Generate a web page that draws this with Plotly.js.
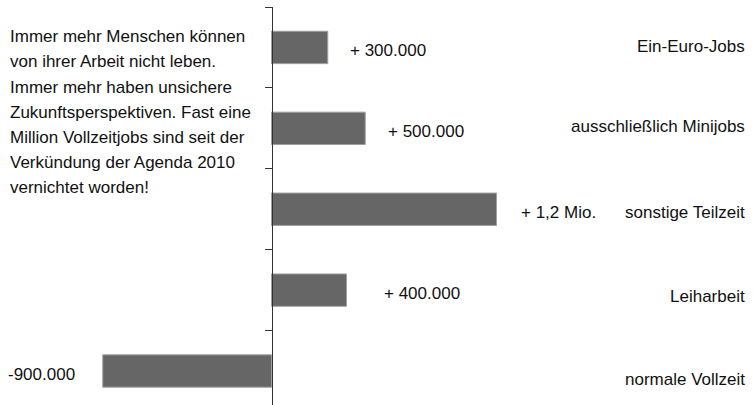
<!DOCTYPE html>
<html><head><meta charset="utf-8">
<script src="https://cdn.plot.ly/plotly-3.0.1.min.js"></script>
<style>html,body{margin:0;padding:0;background:#fff}</style>
</head><body><div id="chart" style="width:753px;height:405px"></div>
<script>
const categories = ["Ein-Euro-Jobs","ausschließlich Minijobs","sonstige Teilzeit","Leiharbeit","normale Vollzeit"];
const values = [300000, 500000, 1200000, 400000, -900000];
const valueLabels = ["+ 300.000","+ 500.000","+ 1,2 Mio.","+ 400.000","-900.000"];
const introLines = ["Immer mehr Menschen können","von ihrer Arbeit nicht leben.","Immer mehr haben unsichere","Zukunftsperspektiven. Fast eine","Million Vollzeitjobs sind seit der","Verkündung der Agenda 2010","vernichtet worden!"];

// layout-only offsets (pixels)
const valueShiftX = [20, 21, 22, 35, 26];
const catShiftY = [0.5, 1.5, -3, -6.5, -8];
const FONT = "'Liberation Sans',Arial,sans-serif";
const H = 405, T = 7;

const annotations = [];
values.forEach((v, i) => {
  annotations.push({
    x: v, y: categories[i], xref: 'x', yref: 'y',
    text: valueLabels[i], showarrow: false,
    xanchor: v >= 0 ? 'left' : 'right',
    xshift: v >= 0 ? valueShiftX[i] : -valueShiftX[i], yshift: -3.5,
    font: {family: FONT, size: 17, color: '#111'}
  });
  annotations.push({
    x: 0.992, xref: 'paper', y: categories[i], yref: 'y',
    text: categories[i], showarrow: false, xanchor: 'right', yshift: catShiftY[i],
    font: {family: FONT, size: 17, color: '#111'}
  });
});
introLines.forEach((line, i) => {
  const ypx = 35.4 + 1.5 + 25.05 * i;
  annotations.push({
    x: 0.0106, xref: 'paper', y: (H - ypx) / (H - T), yref: 'paper',
    text: line, showarrow: false, xanchor: 'left', yanchor: 'middle', align: 'left',
    font: {family: FONT, size: 17, color: '#111'}
  });
});

const trace = {
  type: 'bar', orientation: 'h',
  y: categories, x: values, width: 0.4,
  marker: {color: '#666666', line: {color: '#a0a0a0', width: 1}},
  hoverinfo: 'none'
};

const layout = {
  width: 753, height: H,
  margin: {l: 0, r: 0, t: T, b: 0},
  paper_bgcolor: '#fff', plot_bgcolor: '#fff',
  showlegend: false,
  xaxis: {range: [-1448000, 2568000], visible: false, showgrid: false, zeroline: false},
  yaxis: {
    type: 'category', categoryorder: 'array', categoryarray: categories,
    range: [4.42, -0.5], anchor: 'free', position: 271.5/753,
    showline: true, linecolor: '#333', linewidth: 1.5,
    ticks: 'outside', tickson: 'boundaries', ticklen: 7, tickcolor: '#333', tickwidth: 1,
    showticklabels: false, showgrid: false, zeroline: false
  },
  annotations: annotations
};
Plotly.newPlot('chart', [trace], layout, {staticPlot: true});
</script></body></html>
